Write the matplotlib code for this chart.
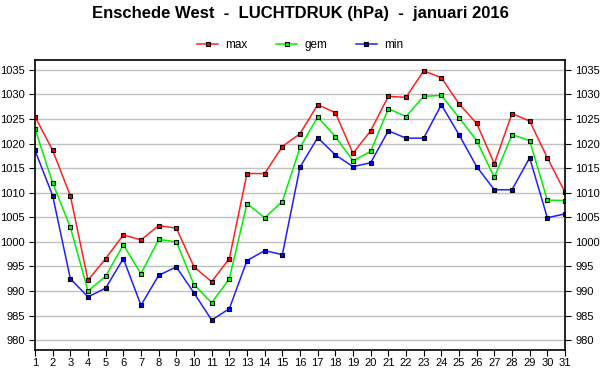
import matplotlib.pyplot as plt

plt.rcParams['font.family'] = ['Liberation Sans', 'DejaVu Sans']

days = list(range(1, 32))
p_max = [1025.5, 1018.6, 1009.4, 992.2, 996.6, 1001.4, 1000.4, 1003.3, 1002.8, 994.9,
         991.9, 996.6, 1013.9, 1013.9, 1019.4, 1022.0, 1027.9, 1026.3, 1018.0, 1022.6,
         1029.6, 1029.4, 1034.8, 1033.4, 1028.1, 1024.1, 1015.9, 1026.1, 1024.6, 1017.1,
         1010.1]
p_gem = [1023.0, 1012.0, 1003.0, 990.0, 993.0, 999.4, 993.5, 1000.5, 1000.0, 991.3,
         987.6, 992.5, 1007.8, 1004.9, 1008.2, 1019.2, 1025.4, 1021.4, 1016.5, 1018.4,
         1027.1, 1025.5, 1029.6, 1029.8, 1025.3, 1020.6, 1013.1, 1021.8, 1020.6, 1008.5,
         1008.4]
p_min = [1018.6, 1009.4, 992.5, 988.8, 990.6, 996.6, 987.1, 993.2, 994.9, 989.6,
         984.1, 986.4, 996.2, 998.2, 997.4, 1015.2, 1021.2, 1017.7, 1015.3, 1016.1,
         1022.6, 1021.1, 1021.1, 1027.9, 1021.8, 1015.3, 1010.6, 1010.6, 1017.1, 1004.9,
         1005.7]
yticks = list(range(980, 1040, 5))

fig = plt.figure(figsize=(6, 3.9), dpi=100)
ax = fig.add_axes([35 / 600, 40 / 390, 530 / 600, 290 / 390])

mk = dict(marker='s', markersize=3.5, markeredgecolor='black', markeredgewidth=0.8, linewidth=1.1)
ax.plot(days, p_max, color='#ff2020', markerfacecolor='#ff0000', label='max', **mk)
ax.plot(days, p_gem, color='#00ee00', markerfacecolor='#00ff00', label='gem', **mk)
ax.plot(days, p_min, color='#2020ff', markerfacecolor='#0000ff', label='min', **mk)

ax.set_xlim(1, 31)
ax.set_ylim(978, 1037)
ax.set_xticks(days)
ax.set_yticks(yticks)
ax.yaxis.grid(True, color='#c0c0c0', linewidth=1)
ax.set_axisbelow(True)
ax.tick_params(axis='both', labelsize=8, length=4, direction='out', color='black')
ax.tick_params(axis='y', which='both', right=True, labelright=True)
ax.tick_params(axis='x', pad=2)
for s in ax.spines.values():
    s.set_linewidth(1.2)

fig.suptitle('Enschede West  -  LUCHTDRUK (hPa)  -  januari 2016', fontsize=12,
             fontweight='bold', y=0.985)
fig.legend(loc='center', bbox_to_anchor=(0.5, 1 - 45 / 390), ncol=3, frameon=False,
           fontsize=8.5, columnspacing=2.4, handlelength=1.8, handletextpad=0.6)

fig.savefig('out.png', dpi=100)
